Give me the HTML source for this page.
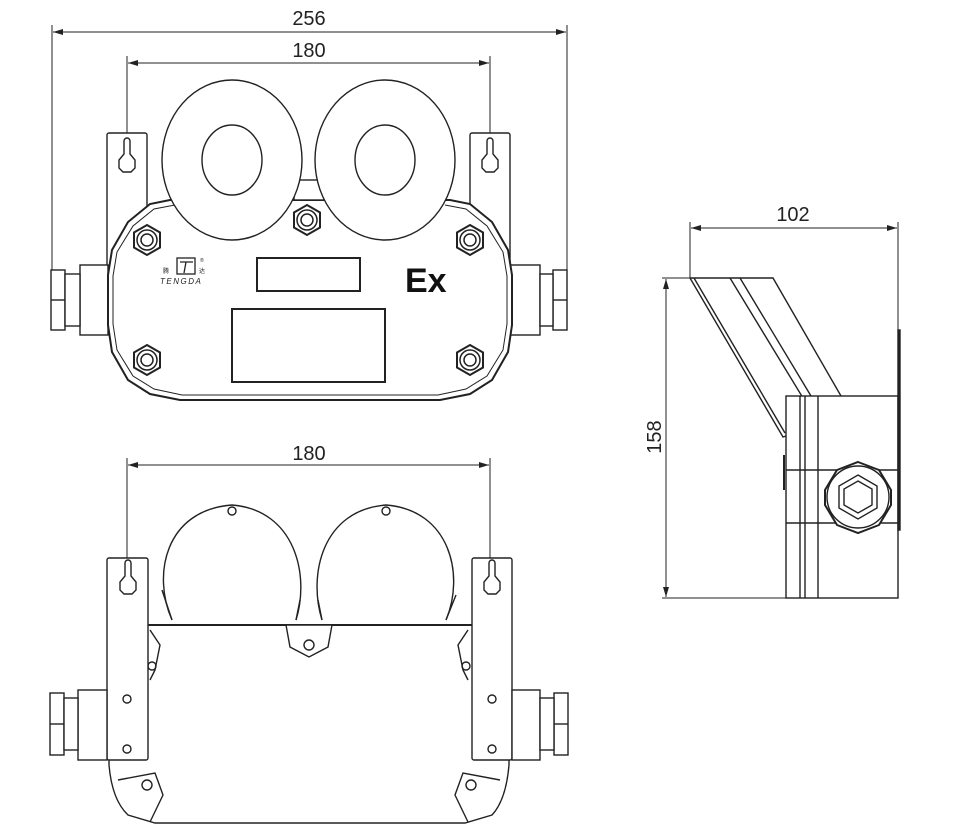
<!DOCTYPE html>
<html><head><meta charset="utf-8"><style>
html,body{margin:0;padding:0;background:#fff;}
svg{display:block;}
text{font-family:"Liberation Sans",Arial,sans-serif;fill:#222;}
</style></head><body>
<svg width="953" height="837" viewBox="0 0 953 837" xmlns="http://www.w3.org/2000/svg">
<defs>
<marker id="ar" viewBox="0 0 10 6" refX="10" refY="3" markerWidth="10" markerHeight="6" orient="auto-start-reverse" markerUnits="userSpaceOnUse"><path d="M0,0 L10,3 L0,6 z" fill="#222"/></marker>
<g id="nut"><polygon points="0,-15 13,-7.5 13,7.5 0,15 -13,7.5 -13,-7.5" fill="#fff" stroke="#222" stroke-width="2"/><circle r="10" fill="none" stroke="#222" stroke-width="1.5"/><circle r="6" fill="none" stroke="#222" stroke-width="1.5"/></g>
<path id="key" d="M-3,-17 A3,3 0 0 1 3,-17 L3,-4 L8,2 L8,10 L4,14 L-4,14 L-8,10 L-8,2 L-3,-4 Z" fill="none" stroke="#222" stroke-width="1.4"/>
</defs>
<g stroke="#222" fill="none" stroke-width="1.4">
<!-- TOP VIEW dims -->
<line x1="52" y1="25" x2="52" y2="270" stroke-width="1"/>
<line x1="567" y1="25" x2="567" y2="270" stroke-width="1"/>
<line x1="53" y1="32" x2="566" y2="32" stroke-width="1" marker-start="url(#ar)" marker-end="url(#ar)"/>
<line x1="127" y1="56" x2="127" y2="145" stroke-width="1"/>
<line x1="490" y1="56" x2="490" y2="145" stroke-width="1"/>
<line x1="128" y1="63" x2="489" y2="63" stroke-width="1" marker-start="url(#ar)" marker-end="url(#ar)"/>
<rect x="107" y="133" width="40" height="200" rx="2" fill="#fff"/>
<rect x="470" y="133" width="40" height="200" rx="2" fill="#fff"/>
<use href="#key" x="127" y="158"/>
<use href="#key" x="490" y="158"/>
<rect x="80" y="265" width="28" height="70" fill="#fff"/>
<rect x="51" y="270" width="14" height="60" fill="#fff"/>
<rect x="65" y="274" width="15" height="52" fill="#fff"/>
<line x1="51" y1="300" x2="65" y2="300"/>
<rect x="510" y="265" width="30" height="70" fill="#fff"/>
<rect x="553" y="270" width="14" height="60" fill="#fff"/>
<rect x="540" y="274" width="13" height="52" fill="#fff"/>
<line x1="553" y1="300" x2="567" y2="300"/>
<path d="M170,200 L150,204 L128,222 L112,250 L108,275 L108,325 L112,352 L128,380 L150,394 L180,400 L440,400 L470,394 L492,380 L508,352 L512,325 L512,275 L508,250 L492,222 L470,204 L450,200 Z" fill="#fff" stroke-width="2"/>
<path d="M175,205 L154,209 L133,226 L117,252 L113,276 L113,324 L117,350 L133,376 L154,389 L182,395 L438,395 L466,389 L487,376 L503,350 L507,324 L507,276 L503,252 L487,226 L466,209 L445,205" stroke-width="1"/>
<rect x="294" y="180" width="30" height="20" fill="#fff"/>
<ellipse cx="232" cy="160" rx="70" ry="80" fill="#fff"/>
<ellipse cx="232" cy="160" rx="30" ry="35"/>
<ellipse cx="385" cy="160" rx="70" ry="80" fill="#fff"/>
<ellipse cx="385" cy="160" rx="30" ry="35"/>
<use href="#nut" x="307" y="220"/>
<use href="#nut" x="147" y="240"/>
<use href="#nut" x="470" y="240"/>
<use href="#nut" x="147" y="360"/>
<use href="#nut" x="470" y="360"/>
<rect x="257" y="258" width="103" height="33" stroke-width="2"/>
<rect x="232" y="309" width="153" height="73" stroke-width="2"/>
</g>
<text x="405" y="292" font-size="34" font-weight="bold" style="fill:#111">Ex</text>
<g stroke="#222" fill="none" stroke-width="1.3">
<rect x="177" y="258" width="18" height="16"/>
<path d="M180,262 L193,262 M186,262 L184,273"/>
</g>
<text x="163" y="273" font-size="6">腾</text>
<text x="199" y="273" font-size="6">达</text>
<text x="200" y="262" font-size="5">®</text>
<text x="160" y="284" font-size="8" font-style="italic" letter-spacing="1.5">TENGDA</text>
<text x="309" y="25" font-size="20" text-anchor="middle">256</text>
<text x="309" y="57" font-size="20" text-anchor="middle">180</text>

<!-- BOTTOM VIEW -->
<g stroke="#222" fill="none" stroke-width="1.4">
<line x1="127" y1="458" x2="127" y2="575" stroke-width="1"/>
<line x1="490" y1="458" x2="490" y2="575" stroke-width="1"/>
<line x1="128" y1="465" x2="489" y2="465" stroke-width="1" marker-start="url(#ar)" marker-end="url(#ar)"/>
<!-- domes -->
<path d="M172,620 C152,575 165,510 232,505 C295,510 310,575 296,620" fill="#fff"/>
<path d="M322,620 C308,575 322,510 386,505 C450,510 465,575 446,620" fill="#fff"/>
<path d="M162,590 L172,620 M300,600 L296,620 M318,600 L322,620 M456,595 L446,620" />
<circle cx="232" cy="511" r="4"/><circle cx="386" cy="511" r="4"/>
<!-- body -->
<path d="M150,625 L109,625 L109,765 Q112,800 128,815 L155,823 L465,823 L492,815 Q506,800 509,765 L509,625 L465,625 Z" fill="#fff"/>
<line x1="147" y1="625" x2="472" y2="625" stroke-width="2"/>
<path d="M118,780 L155,773 L163,795 L150,822"/><circle cx="147" cy="785" r="5"/>
<path d="M500,780 L463,773 L455,795 L468,822"/><circle cx="471" cy="785" r="5"/>
<path d="M150,630 L160,645 L155,670 L150,680"/><circle cx="152" cy="666" r="4"/>
<path d="M468,630 L458,645 L463,670 L468,680"/><circle cx="466" cy="666" r="4"/>
<path d="M286,625 L332,625 L328,647 L309,657 L290,647 Z" fill="#fff"/><circle cx="309" cy="645" r="5"/>
<!-- brackets -->
<rect x="107" y="558" width="41" height="202" rx="2" fill="#fff"/>
<rect x="472" y="558" width="40" height="202" rx="2" fill="#fff"/>
<use href="#key" x="128" y="580"/>
<use href="#key" x="492" y="580"/>
<circle cx="127" cy="699" r="4"/><circle cx="127" cy="749" r="4"/>
<circle cx="492" cy="699" r="4"/><circle cx="492" cy="749" r="4"/>
<!-- glands -->
<rect x="78" y="690" width="29" height="70" fill="#fff"/>
<rect x="50" y="693" width="14" height="62" fill="#fff"/>
<rect x="64" y="698" width="14" height="52" fill="#fff"/>
<line x1="50" y1="724" x2="64" y2="724"/>
<rect x="512" y="690" width="28" height="70" fill="#fff"/>
<rect x="554" y="693" width="14" height="62" fill="#fff"/>
<rect x="540" y="698" width="14" height="52" fill="#fff"/>
<line x1="554" y1="724" x2="568" y2="724"/>
</g>
<text x="309" y="460" font-size="20" text-anchor="middle">180</text>

<!-- SIDE VIEW -->
<g stroke="#222" fill="none" stroke-width="1.4">
<line x1="690" y1="222" x2="690" y2="278" stroke-width="1"/>
<line x1="898" y1="222" x2="898" y2="330" stroke-width="1"/>
<line x1="691" y1="228" x2="897" y2="228" stroke-width="1" marker-start="url(#ar)" marker-end="url(#ar)"/>
<line x1="662" y1="278" x2="690" y2="278" stroke-width="1"/>
<line x1="662" y1="598" x2="790" y2="598" stroke-width="1"/>
<line x1="666" y1="279" x2="666" y2="597" stroke-width="1" marker-start="url(#ar)" marker-end="url(#ar)"/>
<path d="M690,278 L773,278 L841,396"/>
<path d="M690,278 L783,437 L786,436"/>
<path d="M694,278 L785,433"/>
<path d="M730,278 L803,398 M740,278 L811,396"/>
<rect x="786" y="396" width="112" height="202" fill="#fff"/>
<line x1="800" y1="396" x2="800" y2="598"/>
<line x1="805" y1="396" x2="805" y2="598"/>
<line x1="818" y1="396" x2="818" y2="598"/>
<line x1="786" y1="470" x2="898" y2="470"/>
<line x1="786" y1="523" x2="898" y2="523"/>
<rect x="898" y="330" width="2" height="200" fill="#222"/>
<rect x="783" y="455" width="2" height="35" fill="#222" stroke="none"/>
<polygon points="858,462 879,470 891,490 891,505 879,525 858,533 837,525 825,505 825,490 837,470" fill="#fff" stroke-width="2"/>
<circle cx="858" cy="497" r="31"/>
<polygon points="858,475 877,486 877,508 858,519 839,508 839,486"/>
<polygon points="858,481 872,489 872,505 858,513 844,505 844,489"/>
</g>
<text x="793" y="221" font-size="20" text-anchor="middle">102</text>
<text x="0" y="0" font-size="20" text-anchor="middle" transform="translate(661,437) rotate(-90)">158</text>
</svg>
</body></html>
